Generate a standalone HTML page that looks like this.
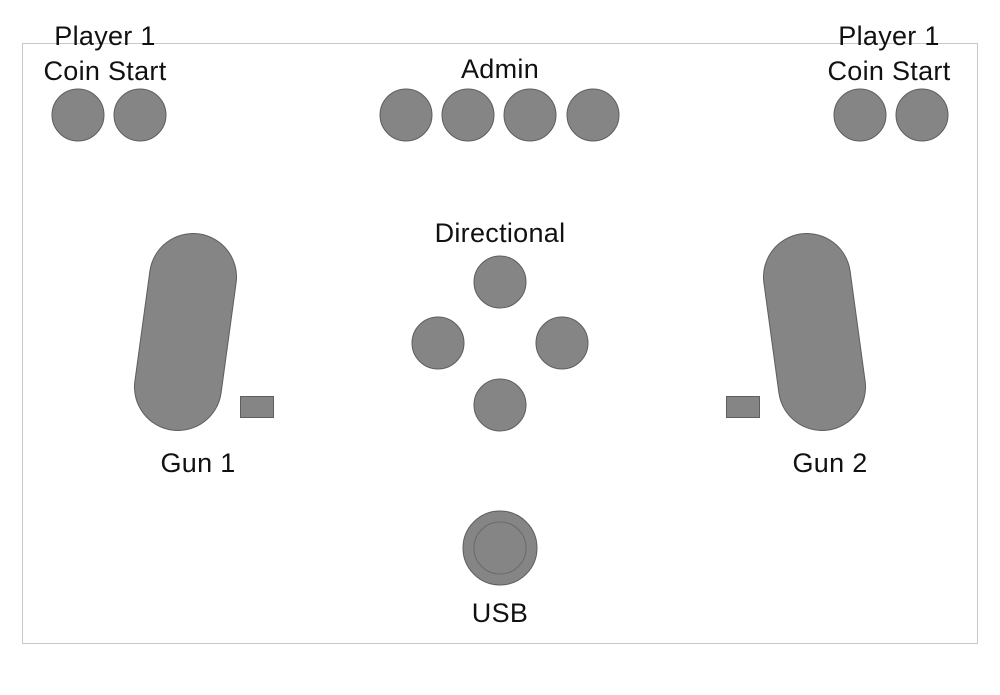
<!DOCTYPE html>
<html><head><meta charset="utf-8"><style>
html,body{margin:0;padding:0;background:#fff;width:1000px;height:695px;overflow:hidden}
text{font-family:"Liberation Sans",sans-serif;font-size:27px;letter-spacing:0.3px;fill:#111;text-anchor:middle}
</style></head><body>
<svg width="1000" height="695" viewBox="0 0 1000 695" xmlns="http://www.w3.org/2000/svg">
<rect x="22.5" y="43.5" width="955" height="600" fill="none" stroke="#c8c8c8" stroke-width="1"/>
<g fill="#858585" stroke="#5e5e5e" stroke-width="1">
<circle cx="78" cy="115" r="26"/><circle cx="140" cy="115" r="26"/>
<circle cx="860" cy="115" r="26"/><circle cx="922" cy="115" r="26"/>
<circle cx="406" cy="115" r="26"/><circle cx="468" cy="115" r="26"/><circle cx="530" cy="115" r="26"/><circle cx="593" cy="115" r="26"/>
<circle cx="500" cy="282" r="26"/><circle cx="438" cy="343" r="26"/><circle cx="562" cy="343" r="26"/><circle cx="500" cy="405" r="26"/>
<rect x="240.5" y="396.5" width="33" height="21"/>
<rect x="726.5" y="396.5" width="33" height="21"/>
<circle cx="500" cy="548" r="37"/>
</g>
<circle cx="500" cy="548" r="26" fill="#858585" stroke="#6a6a6a" stroke-width="1"/>
<line x1="193" y1="277" x2="178" y2="387" stroke="#5e5e5e" stroke-width="88" stroke-linecap="round"/>
<line x1="193" y1="277" x2="178" y2="387" stroke="#858585" stroke-width="86" stroke-linecap="round"/>
<line x1="807" y1="277" x2="822" y2="387" stroke="#5e5e5e" stroke-width="88" stroke-linecap="round"/>
<line x1="807" y1="277" x2="822" y2="387" stroke="#858585" stroke-width="86" stroke-linecap="round"/>
<text x="105" y="45">Player 1</text>
<text x="105" y="80">Coin Start</text>
<text x="889" y="45">Player 1</text>
<text x="889" y="80">Coin Start</text>
<text x="500" y="78">Admin</text>
<text x="500" y="242">Directional</text>
<text x="198" y="472">Gun 1</text>
<text x="830" y="472">Gun 2</text>
<text x="500" y="622">USB</text>
</svg>
</body></html>
